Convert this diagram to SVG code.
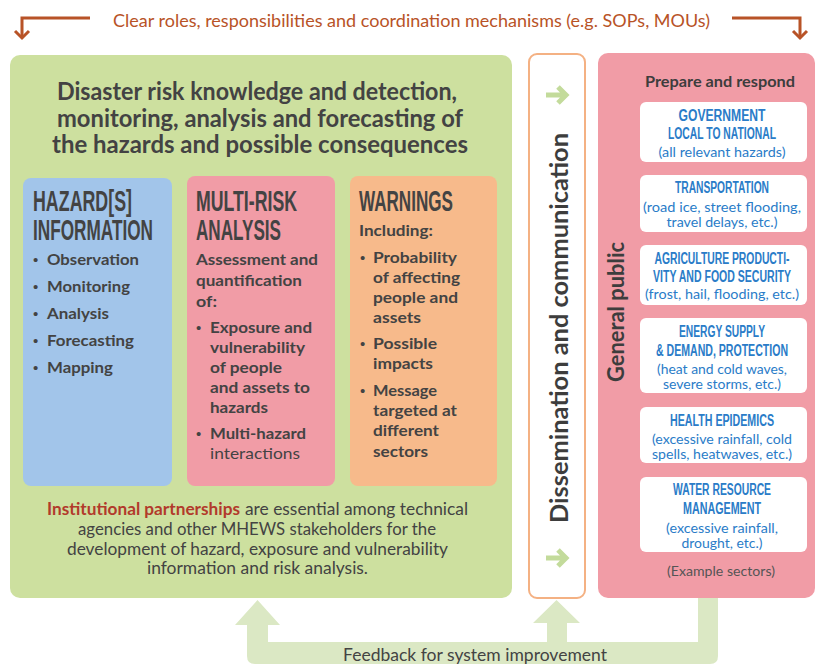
<svg xmlns="http://www.w3.org/2000/svg" width="825" height="665" viewBox="0 0 825 665">
  <defs>
    <style>
      .t { font-family: Lato, "Open Sans", "Liberation Sans", sans-serif; fill: #434343; }
      .b { font-weight: 700; }
      .hd { font-family: "Liberation Sans", Arial, sans-serif; font-weight: 700; fill: #434343; font-size: 30px; }
      .bul { font-size: 16px; font-weight: 700; }
      .dot { font-family: "Liberation Sans", Arial, sans-serif; font-size: 15px; fill: #434343; }
      .card { fill: #ffffff; }
      .ch { font-family: "Liberation Sans", Arial, sans-serif; font-weight: 700; fill: #2a7cc8; font-size: 12px; text-anchor: middle; }
      .cs { font-family: Lato, "Open Sans", "Liberation Sans", sans-serif; fill: #2a7cc8; font-size: 14px; text-anchor: middle; }
      .mid { text-anchor: middle; }
      .toparrow { fill: none; stroke: #b85327; stroke-width: 3; }
      .garrow { fill: none; stroke: #c3db9b; stroke-width: 5; }
    </style>
  </defs>

  <rect width="825" height="665" fill="#ffffff"/>

  <!-- coordination banner across the top -->
  <g id="coordination">
    <path class="toparrow" d="M90,18 H22 V38"/>
    <path class="toparrow" d="M15,31 L22,38 L29,31"/>
    <path class="toparrow" d="M732,18 H800 V38"/>
    <path class="toparrow" d="M793,31 L800,38 L807,31"/>
    <text class="t" x="411.5" y="27" font-size="17" text-anchor="middle" style="fill:#b85327" textLength="597" lengthAdjust="spacingAndGlyphs">Clear roles, responsibilities and coordination mechanisms (e.g. SOPs, MOUs)</text>
  </g>

  <!-- feedback loop band -->
  <g id="connectors">
    <path fill="#dbe8c4" d="M718,598 V656 Q718,664 710,664 H255 Q247,664 247,656 V625 H235 L257.5,600 L280,625 H268 V642 H547 V623 H533 L556.5,600 L580,623 H567 V642 H698 V598 Z"/>
    <text class="t" x="475" y="661" font-size="17" text-anchor="middle" textLength="264" lengthAdjust="spacingAndGlyphs">Feedback for system improvement</text>
  </g>

  <!-- risk knowledge panel -->
  <g id="risk-knowledge">
    <rect x="10" y="55" width="502" height="543" rx="10" fill="#cde09f"/>
    <text class="t b mid" x="257" y="100" font-size="24.5" textLength="400" lengthAdjust="spacingAndGlyphs">Disaster risk knowledge and detection,</text>
    <text class="t b mid" x="260" y="127" font-size="24.5" textLength="406" lengthAdjust="spacingAndGlyphs">monitoring, analysis and forecasting of</text>
    <text class="t b mid" x="260" y="153" font-size="24.5" textLength="416" lengthAdjust="spacingAndGlyphs">the hazards and possible consequences</text>

    <text class="t" x="47" y="515" font-size="16.5" style="fill:#b23a2b;font-weight:700" textLength="193" lengthAdjust="spacingAndGlyphs">Institutional partnerships</text>
    <text class="t" x="245" y="515" font-size="16.5" textLength="223" lengthAdjust="spacingAndGlyphs">are essential among technical</text>
    <text class="t mid" x="257" y="535" font-size="16.5" textLength="358" lengthAdjust="spacingAndGlyphs">agencies and other MHEWS stakeholders for the</text>
    <text class="t mid" x="257.5" y="555" font-size="16.5" textLength="381" lengthAdjust="spacingAndGlyphs">development of hazard, exposure and vulnerability</text>
    <text class="t mid" x="257.5" y="574" font-size="16.5" textLength="221" lengthAdjust="spacingAndGlyphs">information and risk analysis.</text>
  </g>

  <!-- hazard information -->
  <g id="hazard-information">
    <rect x="23" y="178" width="149" height="308" rx="8" fill="#a2c5ea"/>
    <text class="hd" x="33" y="211" textLength="99" lengthAdjust="spacingAndGlyphs">HAZARD[S]</text>
    <text class="hd" x="33" y="240" textLength="120" lengthAdjust="spacingAndGlyphs">INFORMATION</text>
    <g class="dot">
      <text x="33" y="265">•</text>
      <text x="33" y="292">•</text>
      <text x="33" y="319">•</text>
      <text x="33" y="346">•</text>
      <text x="33" y="373">•</text>
    </g>
    <g class="t bul">
      <text x="47" y="265" textLength="92" lengthAdjust="spacingAndGlyphs">Observation</text>
      <text x="47" y="292" textLength="83" lengthAdjust="spacingAndGlyphs">Monitoring</text>
      <text x="47" y="319" textLength="62" lengthAdjust="spacingAndGlyphs">Analysis</text>
      <text x="47" y="346" textLength="87" lengthAdjust="spacingAndGlyphs">Forecasting</text>
      <text x="47" y="373" textLength="66" lengthAdjust="spacingAndGlyphs">Mapping</text>
    </g>
  </g>

  <!-- multi-risk analysis -->
  <g id="multi-risk-analysis">
    <rect x="187" y="176" width="148" height="310" rx="8" fill="#f19ca6"/>
    <text class="hd" x="196" y="211" textLength="101" lengthAdjust="spacingAndGlyphs">MULTI-RISK</text>
    <text class="hd" x="196" y="240" textLength="85" lengthAdjust="spacingAndGlyphs">ANALYSIS</text>
    <g class="dot">
      <text x="196" y="333">•</text>
      <text x="196" y="439">•</text>
    </g>
    <g class="t bul">
      <text x="196" y="265" textLength="122" lengthAdjust="spacingAndGlyphs">Assessment and</text>
      <text x="196" y="286" textLength="106" lengthAdjust="spacingAndGlyphs">quantification</text>
      <text x="196" y="307" textLength="21" lengthAdjust="spacingAndGlyphs">of:</text>
      <text x="210" y="333" textLength="102" lengthAdjust="spacingAndGlyphs">Exposure and</text>
      <text x="210" y="353" textLength="95" lengthAdjust="spacingAndGlyphs">vulnerability</text>
      <text x="210" y="373" textLength="72" lengthAdjust="spacingAndGlyphs">of people</text>
      <text x="210" y="393" textLength="100" lengthAdjust="spacingAndGlyphs">and assets to</text>
      <text x="210" y="413" textLength="58" lengthAdjust="spacingAndGlyphs">hazards</text>
      <text x="210" y="439" textLength="96" lengthAdjust="spacingAndGlyphs">Multi-hazard</text>
      <text x="210" y="459" style="font-weight:400" textLength="90" lengthAdjust="spacingAndGlyphs">interactions</text>
    </g>
  </g>

  <!-- warnings -->
  <g id="warnings">
    <rect x="350" y="176" width="147" height="310" rx="8" fill="#f7ba8b"/>
    <text class="hd" x="359" y="211" textLength="94" lengthAdjust="spacingAndGlyphs">WARNINGS</text>
    <g class="dot">
      <text x="360" y="263">•</text>
      <text x="360" y="349">•</text>
      <text x="360" y="396">•</text>
    </g>
    <g class="t bul">
      <text x="359" y="236" textLength="74" lengthAdjust="spacingAndGlyphs">Including:</text>
      <text x="373" y="263" textLength="84" lengthAdjust="spacingAndGlyphs">Probability</text>
      <text x="373" y="283" textLength="87" lengthAdjust="spacingAndGlyphs">of affecting</text>
      <text x="373" y="303" textLength="85" lengthAdjust="spacingAndGlyphs">people and</text>
      <text x="373" y="323" textLength="48" lengthAdjust="spacingAndGlyphs">assets</text>
      <text x="373" y="349" textLength="64" lengthAdjust="spacingAndGlyphs">Possible</text>
      <text x="373" y="369" textLength="60" lengthAdjust="spacingAndGlyphs">impacts</text>
      <text x="373" y="396" textLength="64" lengthAdjust="spacingAndGlyphs">Message</text>
      <text x="373" y="416" textLength="84" lengthAdjust="spacingAndGlyphs">targeted at</text>
      <text x="373" y="436" textLength="66" lengthAdjust="spacingAndGlyphs">different</text>
      <text x="373" y="457" textLength="55" lengthAdjust="spacingAndGlyphs">sectors</text>
    </g>
  </g>

  <!-- dissemination column -->
  <g id="dissemination">
    <rect x="529" y="54" width="56" height="544" rx="8" fill="#ffffff" stroke="#f4b183" stroke-width="2"/>
    <path class="garrow" d="M546,95 H565 M558,87 L566,95 L558,103"/>
    <path class="garrow" d="M546,558 H565 M558,550 L566,558 L558,566"/>
    <text class="t b mid" transform="translate(568,328) rotate(-90)" font-size="25" style="fill:#3d3d3d" textLength="390" lengthAdjust="spacingAndGlyphs">Dissemination and communication</text>
  </g>

  <!-- general public and sectors -->
  <g id="general-public">
    <rect x="598" y="53" width="217" height="545" rx="10" fill="#f19ca6"/>
    <text class="t b mid" x="720" y="87" font-size="15" style="fill:#3d3d3d" textLength="150" lengthAdjust="spacingAndGlyphs">Prepare and respond</text>
    <text class="t b mid" transform="translate(624,312) rotate(-90)" font-size="22" style="fill:#3d3d3d" textLength="140" lengthAdjust="spacingAndGlyphs">General public</text>
    <text class="t mid" x="721" y="576" font-size="14" style="fill:#555" textLength="108" lengthAdjust="spacingAndGlyphs">(Example sectors)</text>
  </g>

  <!-- sector cards: headers are drawn small and stretched upright to get a condensed look -->
  <g id="sector-government">
    <rect class="card" x="640" y="102" width="167" height="60" rx="6"/>
    <text class="ch" transform="translate(722,121) scale(1,1.3)" textLength="87" lengthAdjust="spacingAndGlyphs">GOVERNMENT</text>
    <text class="ch" transform="translate(722,139) scale(1,1.3)" textLength="108" lengthAdjust="spacingAndGlyphs">LOCAL TO NATIONAL</text>
    <text class="cs" x="722" y="157" textLength="127" lengthAdjust="spacingAndGlyphs">(all relevant hazards)</text>
  </g>

  <g id="sector-transportation">
    <rect class="card" x="640" y="175" width="167" height="57" rx="6"/>
    <text class="ch" transform="translate(722,193) scale(1,1.3)" textLength="94" lengthAdjust="spacingAndGlyphs">TRANSPORTATION</text>
    <text class="cs" x="722" y="212" textLength="158" lengthAdjust="spacingAndGlyphs">(road ice, street flooding,</text>
    <text class="cs" x="722" y="227" textLength="111" lengthAdjust="spacingAndGlyphs">travel delays, etc.)</text>
  </g>

  <g id="sector-agriculture">
    <rect class="card" x="640" y="245" width="167" height="60" rx="6"/>
    <text class="ch" transform="translate(722,264) scale(1,1.3)" textLength="135" lengthAdjust="spacingAndGlyphs">AGRICULTURE PRODUCTI-</text>
    <text class="ch" transform="translate(722,282) scale(1,1.3)" textLength="138" lengthAdjust="spacingAndGlyphs">VITY AND FOOD SECURITY</text>
    <text class="cs" x="722" y="299" textLength="154" lengthAdjust="spacingAndGlyphs">(frost, hail, flooding, etc.)</text>
  </g>

  <g id="sector-energy">
    <rect class="card" x="640" y="318" width="167" height="75" rx="6"/>
    <text class="ch" transform="translate(722,337) scale(1,1.3)" textLength="86" lengthAdjust="spacingAndGlyphs">ENERGY SUPPLY</text>
    <text class="ch" transform="translate(722,356) scale(1,1.3)" textLength="132" lengthAdjust="spacingAndGlyphs">&amp; DEMAND, PROTECTION</text>
    <text class="cs" x="722" y="374" textLength="130" lengthAdjust="spacingAndGlyphs">(heat and cold waves,</text>
    <text class="cs" x="722" y="389" textLength="118" lengthAdjust="spacingAndGlyphs">severe storms, etc.)</text>
  </g>

  <g id="sector-health">
    <rect class="card" x="640" y="407" width="167" height="56" rx="6"/>
    <text class="ch" transform="translate(722,426) scale(1,1.3)" textLength="104" lengthAdjust="spacingAndGlyphs">HEALTH EPIDEMICS</text>
    <text class="cs" x="722" y="444" textLength="140" lengthAdjust="spacingAndGlyphs">(excessive rainfall, cold</text>
    <text class="cs" x="722" y="459" textLength="140" lengthAdjust="spacingAndGlyphs">spells, heatwaves, etc.)</text>
  </g>

  <g id="sector-water">
    <rect class="card" x="640" y="477" width="167" height="75" rx="6"/>
    <text class="ch" transform="translate(722,495) scale(1,1.3)" textLength="98" lengthAdjust="spacingAndGlyphs">WATER RESOURCE</text>
    <text class="ch" transform="translate(722,514) scale(1,1.3)" textLength="78" lengthAdjust="spacingAndGlyphs">MANAGEMENT</text>
    <text class="cs" x="722" y="533" textLength="112" lengthAdjust="spacingAndGlyphs">(excessive rainfall,</text>
    <text class="cs" x="722" y="548" textLength="81" lengthAdjust="spacingAndGlyphs">drought, etc.)</text>
  </g>
</svg>
